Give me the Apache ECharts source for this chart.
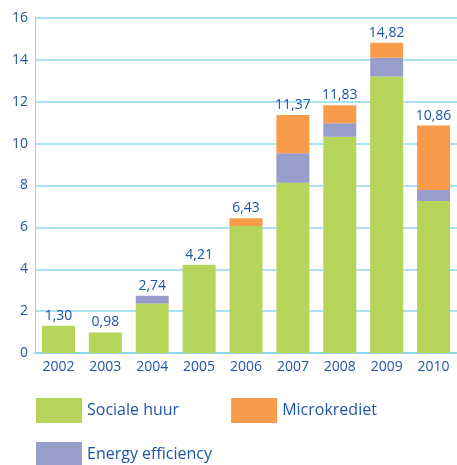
<!DOCTYPE html>
<html>
<head>
<meta charset="utf-8">
<script src="https://cdn.jsdelivr.net/npm/echarts@6/dist/echarts.min.js"></script>
<style>
  html, body { margin: 0; padding: 0; background: #fff; }
  #chart { width: 457px; height: 465px; }
</style>
</head>
<body>
<div id="chart"></div>
<script>
// jaren
const years = ['2002', '2003', '2004', '2005', '2006', '2007', '2008', '2009', '2010']
// waarden per reeks
const socialeHuur = [1.30, 0.98, 2.37, 4.21, 6.06, 8.13, 10.33, 13.21, 7.26]
const energy = [0, 0, 0.37, 0, 0, 1.41, 0.64, 0.89, 0.52]
const microkrediet = [0, 0, 0, 0, 0.37, 1.83, 0.86, 0.72, 3.08]
// totalen boven de staven
const totals = [1.30, 0.98, 2.74, 4.21, 6.43, 11.37, 11.83, 14.82, 10.86]

const textColor = '#1f56a5'
const lineColor = '#8ed8f2'
const font = '"Open Sans", sans-serif'

const myChart = echarts.init(document.getElementById('chart'))
myChart.setOption({
  animation: false,
  grid: { left: 35, right: 0, top: 18, bottom: 112 },
  legend: [
    {
      data: ['Sociale huur', 'Microkrediet'],
      left: 36,
      top: 398,
      padding: 0,
      itemWidth: 46,
      itemHeight: 25,
      itemGap: 52,
      icon: 'rect',
      textStyle: { color: textColor, fontSize: 16, fontFamily: font }
    },
    {
      data: ['Energy efficiency'],
      left: 36,
      top: 442,
      padding: 0,
      itemWidth: 46,
      itemHeight: 25,
      icon: 'rect',
      textStyle: { color: textColor, fontSize: 16, fontFamily: font }
    }
  ],
  xAxis: {
    type: 'category',
    data: years,
    axisLine: { lineStyle: { color: lineColor, width: 2 } },
    axisTick: { show: false },
    axisLabel: { color: textColor, fontSize: 14, fontFamily: font, margin: 7 }
  },
  yAxis: {
    type: 'value',
    min: 0,
    max: 16,
    interval: 2,
    axisLine: { show: true, lineStyle: { color: lineColor, width: 1 } },
    axisTick: { show: false },
    splitLine: { lineStyle: { color: lineColor, width: 1.5 } },
    axisLabel: { color: textColor, fontSize: 14, fontFamily: font, margin: 7 }
  },
  series: [
    {
      name: 'Sociale huur',
      type: 'bar',
      stack: 'total',
      barWidth: 33,
      data: socialeHuur,
      itemStyle: { color: '#b4d55a' }
    },
    {
      name: 'Energy efficiency',
      type: 'bar',
      stack: 'total',
      data: energy,
      itemStyle: { color: '#979ecb' }
    },
    {
      name: 'Microkrediet',
      type: 'bar',
      stack: 'total',
      data: microkrediet,
      itemStyle: { color: '#f89b4a' }
    },
    {
      // alleen voor de totaal-labels
      name: 'totaal',
      type: 'bar',
      stack: 'total',
      data: totals.map(() => 0),
      itemStyle: { color: 'transparent' },
      label: {
        show: true,
        position: 'top',
        distance: 3,
        color: textColor,
        fontSize: 14,
        fontFamily: font,
        formatter: p => totals[p.dataIndex].toFixed(2).replace('.', ',')
      }
    }
  ]
})
</script>
</body>
</html>
